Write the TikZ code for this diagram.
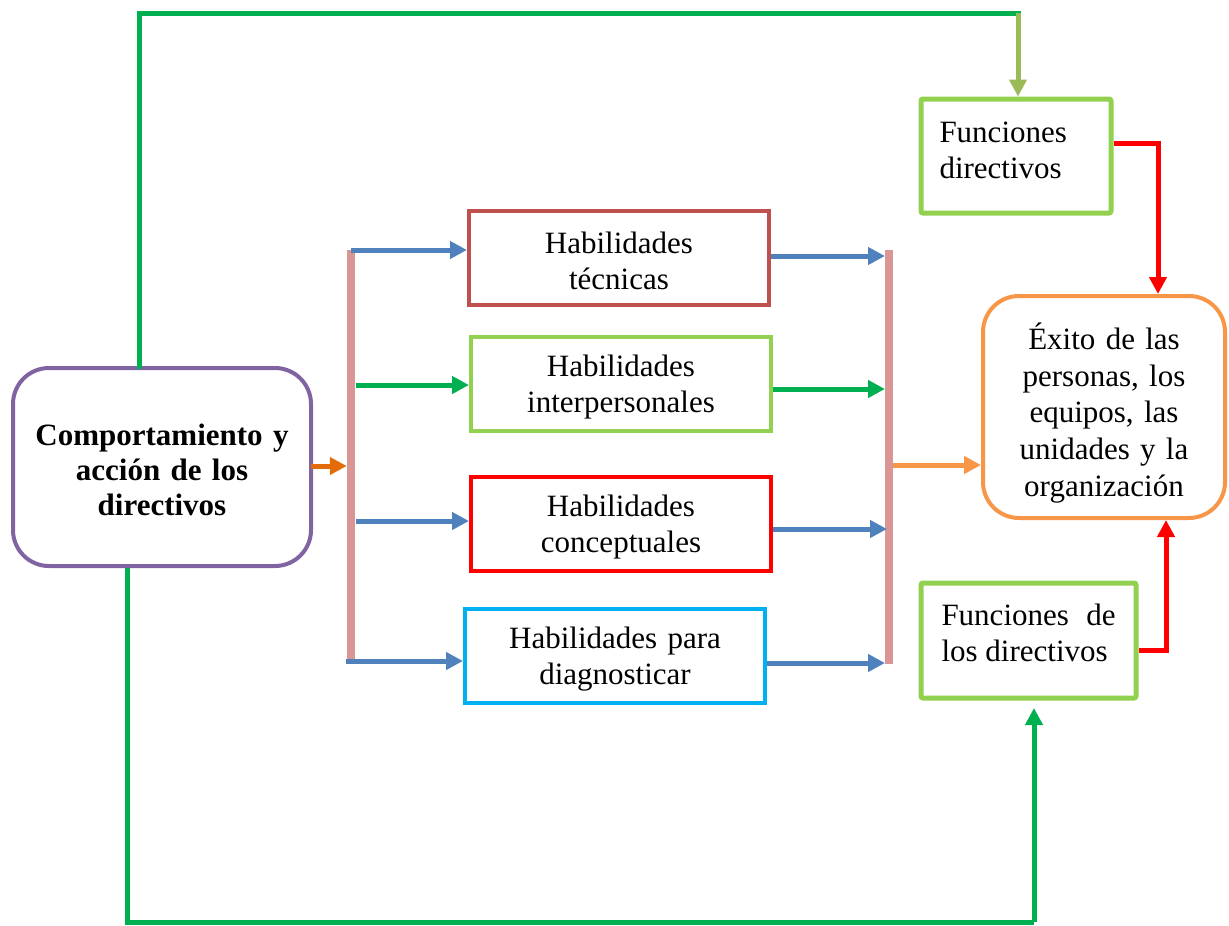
\documentclass[tikz,border=0pt]{standalone}
\usepackage{fontspec}
\setmainfont{Liberation Serif}
\usetikzlibrary{arrows.meta}
\definecolor{cpurple}{HTML}{8064A2}
\definecolor{cpink}{HTML}{D99694}
\definecolor{cblue}{HTML}{4F81BD}
\definecolor{cgreen}{HTML}{00B050}
\definecolor{clgreen}{HTML}{92D050}
\definecolor{cbrown}{HTML}{C0504D}
\definecolor{cred}{HTML}{FF0000}
\definecolor{ccyan}{HTML}{00B0F0}
\definecolor{corange}{HTML}{F79646}
\definecolor{cdorange}{HTML}{E36C09}
\definecolor{colive}{HTML}{9BBB59}
\begin{document}
\begin{tikzpicture}[x=1pt,y=-1pt,
  box/.style={draw, fill=white, line width=4pt, inner sep=0pt},
  txt/.style={inner sep=0pt, align=center, font=\fontsize{31}{36}\selectfont},
  arr/.style={line width=5pt, -{Triangle[length=17pt,width=17pt]}},
  conn/.style={line width=5pt},
  bar/.style={fill=cpink, inner sep=0pt, minimum width=8pt}
]
\useasboundingbox (0,0) rectangle (1229,926);

% coordinates
\coordinate (g1) at (139,13);
\coordinate (g2) at (1018,13);
\coordinate (g3) at (127,922);
\coordinate (g4) at (1034,922);
\coordinate (g5) at (1034,708);
\coordinate (r1) at (1158,143);
\coordinate (r2) at (1166,650);
\coordinate (a1) at (351,250);
\coordinate (a2) at (356,385);
\coordinate (a3) at (356,521);
\coordinate (a4) at (346,661);
\coordinate (c1) at (885,256);
\coordinate (c2) at (885,389);
\coordinate (c3) at (887,529);
\coordinate (c4) at (885,663);
\coordinate (o1) at (311,466);
\coordinate (o2) at (893,465);

% boxes
\node[box, draw=cpurple, rounded corners=36pt, minimum width=298pt, minimum height=198pt] (L) at (162,467) {};
\node[txt, text width=298pt, font=\fontsize{31}{35}\selectfont\bfseries] (Lt) at ([yshift=-3pt]L.center)
  {Comportamiento y\\acción de los\\directivos};
\node[bar, minimum height=412pt] (bl) at (351,456) {};
\node[bar, minimum height=414pt] (br) at (889,457) {};

\node[box, draw=cbrown, minimum width=300pt, minimum height=94pt] (B1) at (619,258) {};
\node[txt, text width=300pt] (B1t) at ([yshift=-3pt]B1.center) {Habilidades\\técnicas};
\node[box, draw=clgreen, minimum width=300pt, minimum height=94pt] (B2) at (621,384) {};
\node[txt, text width=300pt] (B2t) at ([yshift=-3pt]B2.center) {Habilidades\\interpersonales};
\node[box, draw=cred, minimum width=300pt, minimum height=94pt] (B3) at (621,524) {};
\node[txt, text width=300pt] (B3t) at ([yshift=-3pt]B3.center) {Habilidades\\conceptuales};
\node[box, draw=ccyan, minimum width=300pt, minimum height=94pt] (B4) at (615,656) {};
\node[txt, text width=300pt] (B4t) at ([yshift=-3pt]B4.center) {Habilidades para\\diagnosticar};

\node[box, draw=corange, rounded corners=36pt, minimum width=242pt, minimum height=222pt] (R) at (1104,407) {};
\node[txt, text width=242pt, font=\fontsize{31}{36.7}\selectfont] (Rt) at ([yshift=-6pt]R.center)
  {Éxito de las\\personas, los\\equipos, las\\unidades y la\\organización};

\node[box, draw=clgreen, line width=5pt, rounded corners=2pt, minimum width=190pt, minimum height=114pt] (F1) at (1016,156) {};
\node[txt, align=left, text width=153pt] (F1t) at ([yshift=6pt]F1.center) {Funciones\\directivos};
\node[box, draw=clgreen, line width=5pt, rounded corners=2pt, minimum width=215pt, minimum height=115pt] (F2) at (1028.5,640.5) {};
\node[txt, align=justify, text width=174pt] (F2t) at ([yshift=8pt]F2.center) {Funciones de los directivos};

% connectors
\draw[conn, cgreen, line cap=rect] (L.north -| g1) -- (g1) -- (g2);
\draw[arr, colive] (g2) -- (F1.north -| g2);
\draw[conn, cgreen] (L.south -| g3) -- (g3) -- (g4);
\draw[arr, cgreen] (g4) -- (g5);

\draw[arr, cred] (F1.east |- r1) -- (r1) -- (R.north -| r1);
\draw[arr, cred] (F2.east |- r2) -- (r2) -- (R.south -| r2);

\draw[arr, cdorange] (o1) -- (bl.west |- o1);
\draw[arr, corange] (o2) -- (R.west |- o2);

\draw[arr, cblue] (a1) -- (B1.west |- a1);
\draw[arr, cgreen] (a2) -- (B2.west |- a2);
\draw[arr, cblue] (a3) -- (B3.west |- a3);
\draw[arr, cblue] (a4) -- (B4.west |- a4);

\draw[arr, cblue] (B1.east |- c1) -- (c1);
\draw[arr, cgreen] (B2.east |- c2) -- (c2);
\draw[arr, cblue] (B3.east |- c3) -- (c3);
\draw[arr, cblue] (B4.east |- c4) -- (c4);
\end{tikzpicture}
\end{document}
